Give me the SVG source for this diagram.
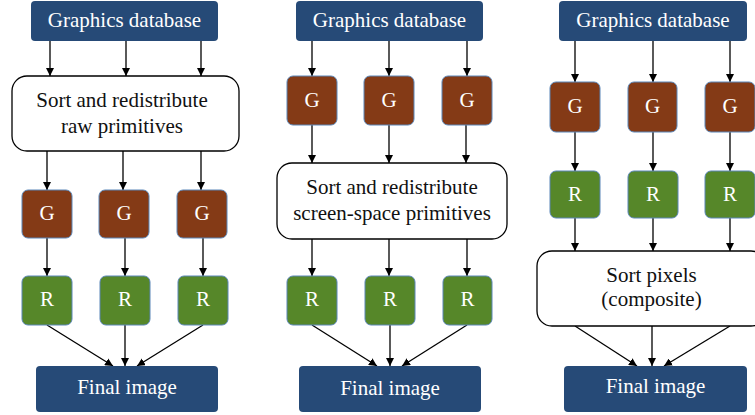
<svg xmlns="http://www.w3.org/2000/svg" width="755" height="415" viewBox="0 0 755 415">
<defs>
<marker id="ah" markerUnits="userSpaceOnUse" markerWidth="8" markerHeight="8" refX="8" refY="4" orient="auto">
<path d="M0,0 L8,4 L0,8 z" fill="#000"/>
</marker>
<style>
.db{fill:#264a77}
.g{fill:#843a16;stroke:#5a86b8;stroke-width:1}
.r{fill:#568729;stroke:#5a86b8;stroke-width:1}
.s{fill:#fff;stroke:#000;stroke-width:1.3}
text{font-family:'Liberation Serif','Times New Roman','DejaVu Serif',serif;font-size:21px;text-anchor:middle}
.tw{fill:#fff}
.tb{fill:#111}
.c line{stroke:#000;stroke-width:1.3;marker-end:url(#ah)}
</style>
</defs>
<rect width="755" height="415" fill="#fff"/>
<g class="c" id="connectors">
<line x1="50" y1="41" x2="50" y2="76"/>
<line x1="126" y1="41" x2="126" y2="76"/>
<line x1="201" y1="41" x2="201" y2="76"/>
<line x1="47" y1="151" x2="47" y2="190"/>
<line x1="123" y1="151" x2="123" y2="190"/>
<line x1="201" y1="151" x2="201" y2="190"/>
<line x1="47" y1="238" x2="47" y2="276"/>
<line x1="125" y1="238" x2="125" y2="276"/>
<line x1="203" y1="238" x2="203" y2="276"/>
<line x1="47" y1="325" x2="113" y2="366"/>
<line x1="125" y1="325" x2="125" y2="366"/>
<line x1="203" y1="325" x2="137" y2="366"/>
<line x1="312" y1="41" x2="312" y2="76"/>
<line x1="389" y1="41" x2="389" y2="76"/>
<line x1="467" y1="41" x2="467" y2="76"/>
<line x1="312" y1="125" x2="312" y2="163"/>
<line x1="389" y1="125" x2="389" y2="163"/>
<line x1="466" y1="125" x2="466" y2="163"/>
<line x1="312" y1="239" x2="312" y2="276"/>
<line x1="389" y1="239" x2="389" y2="276"/>
<line x1="467" y1="239" x2="467" y2="276"/>
<line x1="312" y1="325" x2="377" y2="366"/>
<line x1="390" y1="325" x2="390" y2="366"/>
<line x1="467" y1="325" x2="402" y2="366"/>
<line x1="575" y1="41" x2="575" y2="82"/>
<line x1="653" y1="41" x2="653" y2="82"/>
<line x1="730" y1="41" x2="730" y2="82"/>
<line x1="575" y1="132" x2="575" y2="171"/>
<line x1="653" y1="132" x2="653" y2="171"/>
<line x1="730" y1="132" x2="730" y2="171"/>
<line x1="575" y1="218" x2="575" y2="251"/>
<line x1="653" y1="218" x2="653" y2="251"/>
<line x1="730" y1="218" x2="730" y2="251"/>
<line x1="575" y1="326" x2="637" y2="366"/>
<line x1="652" y1="326" x2="652" y2="366"/>
<line x1="730" y1="326" x2="664" y2="366"/>
</g>
<g id="db1"><rect class="db" x="31" y="1" width="187" height="40" rx="4"/><text class="tw" x="124.5" y="27">Graphics database</text></g>
<g id="sort1"><rect class="s" x="12" y="76" width="227" height="75" rx="15"/><text class="tb" x="122" y="107">Sort and redistribute</text><text class="tb" x="122" y="133">raw primitives</text></g>
<g id="g1a"><rect class="g" x="22" y="190" width="50" height="48" rx="6"/><text class="tw" x="47" y="220">G</text></g>
<g id="g1b"><rect class="g" x="99" y="190" width="50" height="48" rx="6"/><text class="tw" x="124" y="220">G</text></g>
<g id="g1c"><rect class="g" x="177" y="190" width="50" height="48" rx="6"/><text class="tw" x="202" y="220">G</text></g>
<g id="r1a"><rect class="r" x="22" y="276" width="50" height="49" rx="6"/><text class="tw" x="47" y="306">R</text></g>
<g id="r1b"><rect class="r" x="100" y="276" width="50" height="49" rx="6"/><text class="tw" x="125" y="306">R</text></g>
<g id="r1c"><rect class="r" x="178" y="276" width="50" height="49" rx="6"/><text class="tw" x="203" y="306">R</text></g>
<g id="final1"><rect class="db" x="36" y="366" width="182" height="46" rx="4"/><text class="tw" x="127" y="394">Final image</text></g>
<g id="db2"><rect class="db" x="296" y="1" width="187" height="40" rx="4"/><text class="tw" x="389.5" y="27">Graphics database</text></g>
<g id="g2a"><rect class="g" x="287" y="76" width="50" height="49" rx="6"/><text class="tw" x="312" y="107">G</text></g>
<g id="g2b"><rect class="g" x="364" y="76" width="50" height="49" rx="6"/><text class="tw" x="389" y="107">G</text></g>
<g id="g2c"><rect class="g" x="442" y="76" width="50" height="49" rx="6"/><text class="tw" x="467" y="107">G</text></g>
<g id="sort2"><rect class="s" x="277" y="163" width="230" height="76" rx="15"/><text class="tb" x="392" y="194">Sort and redistribute</text><text class="tb" x="392" y="220">screen-space primitives</text></g>
<g id="r2a"><rect class="r" x="287" y="276" width="50" height="49" rx="6"/><text class="tw" x="312" y="306">R</text></g>
<g id="r2b"><rect class="r" x="365" y="276" width="50" height="49" rx="6"/><text class="tw" x="390" y="306">R</text></g>
<g id="r2c"><rect class="r" x="443" y="276" width="49" height="49" rx="6"/><text class="tw" x="467.5" y="306">R</text></g>
<g id="final2"><rect class="db" x="299" y="366" width="182" height="46" rx="4"/><text class="tw" x="390" y="395">Final image</text></g>
<g id="db3"><rect class="db" x="559" y="1" width="188" height="40" rx="4"/><text class="tw" x="653" y="27">Graphics database</text></g>
<g id="g3a"><rect class="g" x="550" y="82" width="50" height="50" rx="6"/><text class="tw" x="575" y="113">G</text></g>
<g id="g3b"><rect class="g" x="628" y="82" width="49" height="50" rx="6"/><text class="tw" x="652.5" y="113">G</text></g>
<g id="g3c"><rect class="g" x="705" y="82" width="50" height="50" rx="6"/><text class="tw" x="730" y="113">G</text></g>
<g id="r3a"><rect class="r" x="550" y="171" width="50" height="47" rx="6"/><text class="tw" x="575" y="201">R</text></g>
<g id="r3b"><rect class="r" x="628" y="171" width="50" height="47" rx="6"/><text class="tw" x="653" y="201">R</text></g>
<g id="r3c"><rect class="r" x="705" y="171" width="50" height="47" rx="6"/><text class="tw" x="730" y="201">R</text></g>
<g id="sort3"><rect class="s" x="537" y="251" width="229" height="75" rx="15"/><text class="tb" x="651.5" y="282">Sort pixels</text><text class="tb" x="651.5" y="306">(composite)</text></g>
<g id="final3"><rect class="db" x="564" y="366" width="183" height="46" rx="4"/><text class="tw" x="655.5" y="393">Final image</text></g>
</svg>
